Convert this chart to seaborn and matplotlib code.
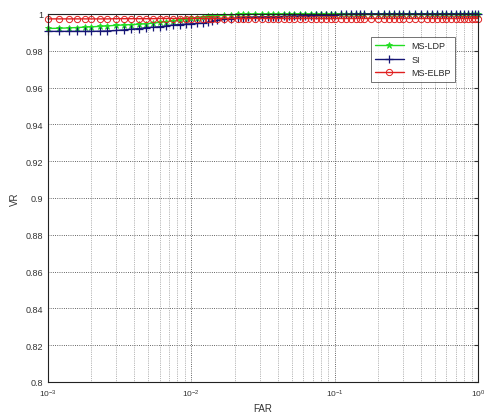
import matplotlib
matplotlib.use("Agg")
import matplotlib.pyplot as plt
import seaborn as sns
from matplotlib.ticker import FuncFormatter, LogLocator, NullFormatter

# FAR sample points
far = [0.001, 0.0012, 0.0014, 0.0016, 0.0018, 0.002, 0.0023, 0.0026, 0.003, 0.0034,
       0.0038, 0.0043, 0.0048, 0.0054, 0.006, 0.0067, 0.0075, 0.0083, 0.0092, 0.01,
       0.011, 0.012, 0.013, 0.014, 0.015, 0.017, 0.019, 0.021, 0.023, 0.025,
       0.028, 0.031, 0.034, 0.037, 0.04, 0.044, 0.048, 0.052, 0.057, 0.062,
       0.068, 0.074, 0.08, 0.087, 0.094, 0.1, 0.11, 0.12, 0.13, 0.14,
       0.15, 0.16, 0.18, 0.2, 0.22, 0.24, 0.26, 0.28, 0.3, 0.33,
       0.36, 0.4, 0.44, 0.48, 0.52, 0.56, 0.6, 0.65, 0.7, 0.75,
       0.8, 0.85, 0.9, 0.95, 1.0]

vr_msldp = [0.9921, 0.9922, 0.9924, 0.9926, 0.9928, 0.9930, 0.9932, 0.9935, 0.9938, 0.9940,
            0.9942, 0.9944, 0.9946, 0.9950, 0.9954, 0.9958, 0.9962, 0.9967, 0.9972, 0.9976,
            0.9980, 0.9983, 0.9986, 0.9988, 0.9990, 0.9993, 0.9995, 0.9997, 0.9998, 0.9999,
            0.9999, 0.9999, 0.9999, 0.9999, 0.9999, 0.9999, 0.9999, 0.9999, 0.9999, 0.9999,
            0.9999, 0.9999, 0.9999, 0.9999, 0.9999, 0.9999, 0.9999, 0.9999, 0.9999, 0.9999,
            1.0, 1.0, 1.0, 1.0, 1.0, 1.0, 1.0, 1.0, 1.0, 1.0,
            1.0, 1.0, 1.0, 1.0, 1.0, 1.0, 1.0, 1.0, 1.0, 1.0,
            1.0, 1.0, 1.0, 1.0, 1.0]

vr_si = [0.9905, 0.9905, 0.9905, 0.9905, 0.9905, 0.9905, 0.9906, 0.9907, 0.9910, 0.9913,
         0.9917, 0.9920, 0.9925, 0.9928, 0.9930, 0.9935, 0.9940, 0.9942, 0.9945, 0.9946,
         0.9948, 0.9950, 0.9955, 0.9960, 0.9965, 0.9970, 0.9975, 0.9978, 0.9980, 0.9982,
         0.9983, 0.9984, 0.9984, 0.9985, 0.9985, 0.9986, 0.9987, 0.9988, 0.9989, 0.9990,
         0.9991, 0.9992, 0.9993, 0.9994, 0.9995, 0.9996, 0.9997, 0.9998, 0.9999, 1.0,
         1.0, 1.0, 1.0, 1.0, 1.0, 1.0, 1.0, 1.0, 1.0, 1.0,
         1.0, 1.0, 1.0, 1.0, 1.0, 1.0, 1.0, 1.0, 1.0, 1.0,
         1.0, 1.0, 1.0, 1.0, 1.0]

vr_mselbp = [0.9973, 0.9973, 0.9973, 0.9973, 0.9973, 0.9973, 0.9973, 0.9973, 0.9974, 0.9974,
             0.9974, 0.9974, 0.9974, 0.9974, 0.9975, 0.9975, 0.9975, 0.9975, 0.9975, 0.9975,
             0.9975, 0.9975, 0.9975, 0.9975, 0.9975, 0.9975, 0.9975, 0.9975, 0.9975, 0.9975,
             0.9975, 0.9975, 0.9975, 0.9975, 0.9975, 0.9975, 0.9975, 0.9975, 0.9975, 0.9975,
             0.9975, 0.9975, 0.9975, 0.9975, 0.9975, 0.9975, 0.9975, 0.9975, 0.9975, 0.9975,
             0.9975, 0.9975, 0.9975, 0.9975, 0.9975, 0.9975, 0.9975, 0.9975, 0.9975, 0.9975,
             0.9975, 0.9975, 0.9975, 0.9975, 0.9975, 0.9975, 0.9975, 0.9975, 0.9975, 0.9975,
             0.9975, 0.9975, 0.9975, 0.9975, 0.9975]

green = '#22dd22'
navy = '#151575'
red = '#e02020'

sns.set_style("white")
plt.rcParams['font.family'] = ['Liberation Sans', 'DejaVu Sans']

fig = plt.figure(figsize=(4.84, 4.14), dpi=100)
ax = fig.add_axes([0.099, 0.075, 0.889, 0.889])

sns.lineplot(x=far, y=vr_msldp, ax=ax, color=green, lw=1.0, marker='*',
             markersize=5, markeredgecolor=green, markerfacecolor=green,
             markeredgewidth=0.6, label='MS-LDP', estimator=None, sort=False, clip_on=False)
sns.lineplot(x=far, y=vr_si, ax=ax, color=navy, lw=1.0, marker='+',
             markersize=6, markeredgecolor=navy, markeredgewidth=0.9,
             label='SI', estimator=None, sort=False, clip_on=False)
sns.lineplot(x=far, y=vr_mselbp, ax=ax, color=red, lw=1.0, marker='o',
             markersize=4.5, markerfacecolor='none', markeredgecolor=red,
             markeredgewidth=0.7, label='MS-ELBP', estimator=None, sort=False, clip_on=False)

ax.set_xscale('log')
ax.set_xlim(1e-3, 1)
ax.set_ylim(0.8, 1.0)
ax.set_yticks([0.8, 0.82, 0.84, 0.86, 0.88, 0.9, 0.92, 0.94, 0.96, 0.98, 1.0])
ax.yaxis.set_major_formatter(FuncFormatter(lambda v, p: '%g' % round(v, 2)))
ax.xaxis.set_minor_locator(LogLocator(base=10, subs=range(2, 10)))
ax.xaxis.set_minor_formatter(NullFormatter())

ax.grid(True, which='major', axis='both', linestyle=':', color='#333333', lw=0.6)
ax.grid(True, which='minor', axis='x', linestyle=':', color='#777777', lw=0.5)

ax.tick_params(axis='both', which='both', direction='in', labelsize=6.5,
               colors='#333333', length=3, top=True, right=True)
ax.tick_params(axis='x', which='major', pad=4)
ax.tick_params(axis='both', which='minor', length=2)
for s in ax.spines.values():
    s.set_color('#222222')
    s.set_linewidth(0.8)
for t in ax.get_xticklabels():
    t.set_fontsize(6)

ax.set_xlabel('FAR', fontsize=7, color='#333333', labelpad=3)
ax.set_ylabel('VR', fontsize=7, color='#333333', labelpad=4)

leg = ax.legend(loc='upper right', bbox_to_anchor=(0.957, 0.95), fontsize=6.5,
                frameon=True, fancybox=False, edgecolor='#333333', borderpad=0.5,
                handlelength=3.2, labelspacing=0.5)
leg.get_frame().set_linewidth(0.6)

fig.savefig('out.png', dpi=100)
